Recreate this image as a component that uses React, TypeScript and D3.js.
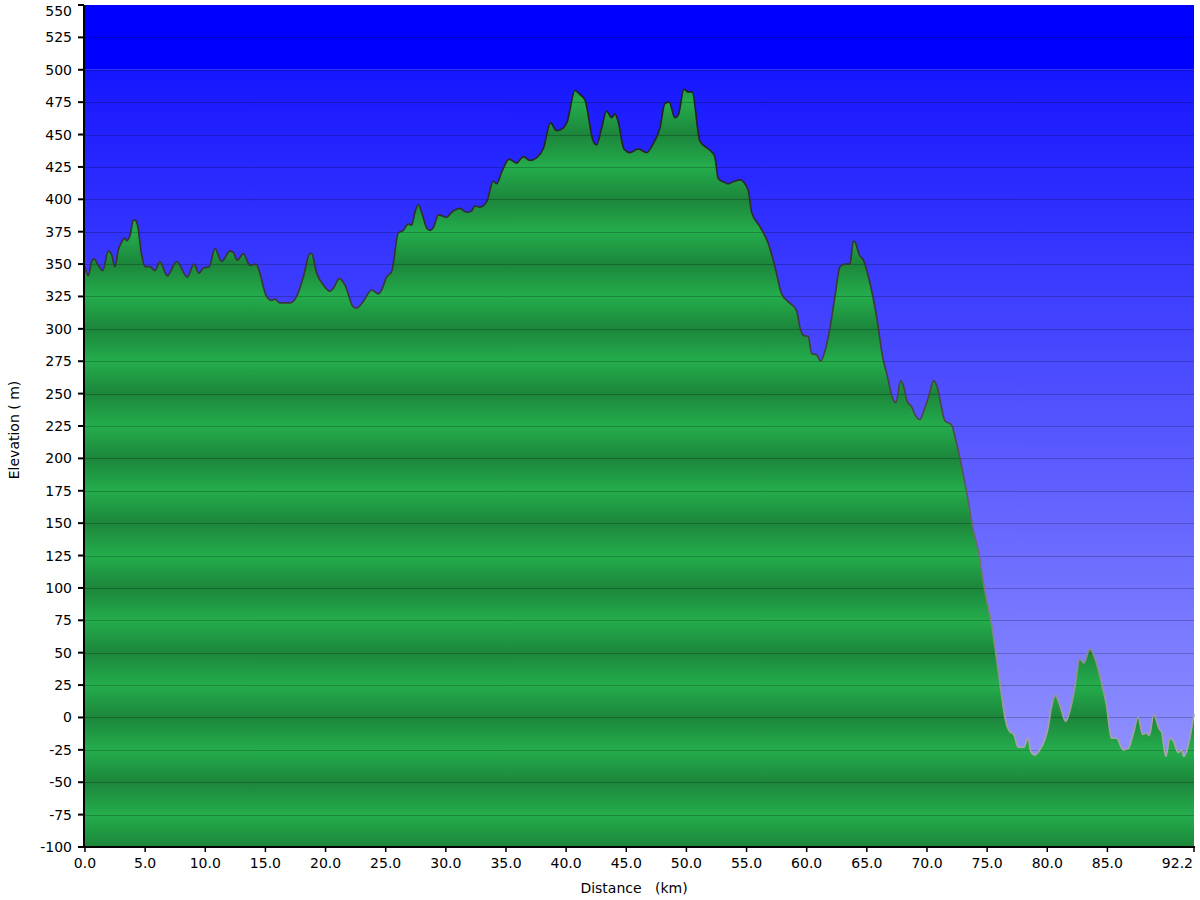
import React from "react";
import * as d3 from "d3";

const distanceKm: number[] = [
  0.0, 0.28, 0.55, 0.75, 1.11, 1.47, 1.94, 2.22, 2.49, 2.77, 3.05, 3.32, 3.46, 3.74, 4.02, 4.16, 4.35, 4.71, 4.99,
  5.4, 5.82, 6.23, 6.84, 7.62, 8.5, 9.06, 9.48, 9.83, 10.33, 10.8, 11.36, 12.05, 12.33, 12.66, 13.16, 13.71, 14.21,
  15.1, 15.51, 15.79, 16.2, 17.04, 17.6, 18.15, 18.7, 18.84, 19.26, 19.81, 20.36, 20.69, 21.14, 21.61, 22.3, 22.58,
  23.13, 23.83, 24.38, 24.66, 25.07, 25.49, 26.05, 26.46, 26.88, 27.15, 27.43, 27.71, 27.99, 28.4, 28.67, 29.0,
  29.37, 29.79, 30.06, 30.48, 31.17, 31.72, 32.14, 32.41, 32.83, 33.39, 33.94, 34.22, 34.64, 35.27, 35.88, 36.44,
  36.99, 37.54, 38.1, 38.7, 39.21, 39.76, 40.09, 40.73, 41.14, 41.56, 42.25, 42.53, 42.95, 43.36, 43.78, 44.06,
  44.33, 44.8, 45.3, 46.0, 46.69, 47.24, 47.8, 48.21, 48.57, 49.04, 49.32, 49.79, 50.15, 50.48, 51.12, 51.95, 52.17,
  52.36, 52.65, 53.2, 53.48, 53.76, 54.45, 55.14, 55.42, 56.11, 56.81, 57.36, 57.92, 58.47, 59.16, 59.44, 59.72,
  60.14, 60.41, 60.83, 61.16, 61.52, 61.94, 62.35, 62.77, 63.19, 63.6, 63.88, 64.02, 64.38, 64.71, 65.27, 65.82,
  66.36, 66.64, 67.2, 67.42, 67.81, 68.08, 68.36, 68.72, 69.05, 69.41, 69.75, 70.11, 70.57, 70.85, 71.49, 72.04,
  72.4, 73.01, 73.43, 73.84, 74.26, 74.81, 75.37, 75.78, 76.19, 76.55, 76.89, 77.22, 77.58, 78.05, 78.41, 78.63,
  78.97, 79.38, 79.8, 80.07, 80.35, 80.68, 80.99, 81.54, 82.01, 82.29, 82.7, 83.04, 83.54, 83.95, 84.51, 84.93,
  85.34, 85.76, 86.31, 86.73, 87.14, 87.56, 87.92, 88.25, 88.48, 88.86, 89.31, 89.5, 89.86, 90.19, 90.52, 90.88,
  91.16, 91.35, 91.71, 92.2,
];

const elevationM: number[] = [
  348, 341, 352, 354, 349, 345, 360, 357, 348, 361, 367, 370, 368, 372, 384, 384, 381, 357, 348,
  348, 345, 352, 341, 352, 340, 350, 343, 347, 348, 362, 352, 360, 359, 353, 358, 349, 350,
  325, 322, 323, 320, 320, 325, 340, 358, 358, 343, 334, 329, 332, 339, 334, 317, 316,
  321, 330, 327, 330, 340, 344, 374, 376, 381, 380, 390, 396, 390, 378, 376, 379,
  388, 387, 386, 390, 393, 390, 391, 395, 394, 398, 414, 412, 421, 431, 428, 433,
  430, 432, 439, 459, 453, 455, 460, 484, 481, 477, 445, 442, 455, 468, 463, 466,
  460, 439, 436, 439, 436, 443, 455, 474, 475, 463, 465, 485, 483, 483, 445, 438, 436,
  433, 416, 413, 412, 413, 415, 407, 390, 379, 366, 348, 327, 321, 314, 301, 295,
  294, 281, 280, 275, 283, 301, 325, 348, 350, 350, 368, 367, 357, 353, 335, 309,
  276, 266, 245, 243, 260, 255, 244, 240, 233, 230, 237, 247, 260, 255, 229, 226,
  214, 188, 167, 145, 129, 98, 72, 46, 18, -3, -11, -13, -23, -23, -16, -26,
  -29, -25, -17, -8, 8, 17, 11, -3, 10, 23, 45, 42, 53, 46, 27, 9,
  -16, -16, -25, -24, -13, 0, -13, -12, -14, 2, -9, -11, -30, -16, -19, -27,
  -25, -30, -22, 3,
];

const yTicks: number[] = d3.range(-100, 551, 25);
const xTicks: number[] = [0, 5, 10, 15, 20, 25, 30, 35, 40, 45, 50, 55, 60, 65, 70, 75, 80, 85, 92.2];
const xTitle = "Distance   (km)";
const yTitle = "Elevation ( m)";

const FONT = "'DejaVu Sans', Verdana, sans-serif";

export default function App() {
  const W = 1200;
  const H = 900;
  const x = d3.scaleLinear().domain([0, 92.2]).range([85, 1194]);
  const y = d3.scaleLinear().domain([-100, 550]).range([847, 5]);

  const data = distanceKm.map((d, i) => ({ d, e: elevationM[i] }));

  const area = d3
    .area<{ d: number; e: number }>()
    .x((p) => x(p.d))
    .y0(y(-100))
    .y1((p) => y(p.e))
    .curve(d3.curveMonotoneX);
  const line = d3
    .line<{ d: number; e: number }>()
    .x((p) => x(p.d))
    .y((p) => y(p.e))
    .curve(d3.curveMonotoneX);

  const x0 = x(0);
  const x1 = x(92.2);

  return (
    <svg
      width={W}
      height={H}
      style={{ position: "absolute", left: 0, top: 0, background: "#fff" }}
    >
      <defs>
        <linearGradient id="skyGrad" gradientUnits="userSpaceOnUse" x1={0} x2={0} y1={y(500)} y2={y(-100)}>
          <stop offset="0" stopColor="rgb(22,22,255)" />
          <stop offset="1" stopColor="rgb(160,160,255)" />
        </linearGradient>
        <linearGradient
          id="stripes"
          gradientUnits="userSpaceOnUse"
          x1={0}
          x2={0}
          y1={y(50)}
          y2={y(0)}
          spreadMethod="repeat"
        >
          <stop offset="0" stopColor="#1c863b" />
          <stop offset="0.5" stopColor="#24ad4c" />
          <stop offset="1" stopColor="#1c863b" />
        </linearGradient>
        <linearGradient id="lineGrad" gradientUnits="userSpaceOnUse" x1={0} x2={0} y1={y(500)} y2={y(-50)}>
          <stop offset="0" stopColor="#1e1e1e" />
          <stop offset="0.5" stopColor="#4a4a4a" />
          <stop offset="1" stopColor="#b0b0b0" />
        </linearGradient>
      </defs>

      {/* background */}
      <rect x={x0} y={y(550)} width={x1 - x0} height={y(500) - y(550)} fill="#0000ff" />
      <rect x={x0} y={y(500)} width={x1 - x0} height={y(-100) - y(500)} fill="url(#skyGrad)" />

      {/* terrain */}
      <path d={area(data) || ""} fill="url(#stripes)" />

      {/* grid */}
      {yTicks
        .filter((t) => t > -100 && t < 550)
        .map((t) => (
          <line
            key={"g" + t}
            x1={x0}
            x2={x1}
            y1={Math.round(y(t)) + 0.5}
            y2={Math.round(y(t)) + 0.5}
            stroke="rgba(0,0,0,0.22)"
            strokeWidth={1}
          />
        ))}

      <path d={line(data) || ""} fill="none" stroke="url(#lineGrad)" strokeWidth={1.7} />

      {/* axes */}
      <line x1={84} x2={84} y1={y(550)} y2={y(-100) + 1} stroke="#000" strokeWidth={2} />
      <line x1={83} x2={x1 + 1} y1={847} y2={847} stroke="#000" strokeWidth={2} />

      {yTicks.map((t) => (
        <g key={"yt" + t}>
          <line x1={78} x2={84} y1={y(t)} y2={y(t)} stroke="#000" strokeWidth={2} />
          <text
            x={72}
            y={Math.max(y(t), 11)}
            textAnchor="end"
            dominantBaseline="central"
            fontFamily={FONT}
            fontSize={14}
            fill="#000"
          >
            {t}
          </text>
        </g>
      ))}

      {xTicks.map((t, i) => {
        const last = i === xTicks.length - 1;
        return (
          <g key={"xt" + t}>
            <line x1={x(t)} x2={x(t)} y1={847} y2={852} stroke="#000" strokeWidth={1.5} />
            <text
              x={last ? 1193 : x(t)}
              y={868}
              textAnchor={last ? "end" : "middle"}
              fontFamily={FONT}
              fontSize={14}
              fill="#000"
            >
              {t.toFixed(1)}
            </text>
          </g>
        );
      })}

      <text
        x={634}
        y={893}
        textAnchor="middle"
        fontFamily={FONT}
        fontSize={14}
        fill="#000"
        style={{ whiteSpace: "pre" }}
      >
        {xTitle}
      </text>
      <text
        transform={`translate(19,430) rotate(-90)`}
        textAnchor="middle"
        fontFamily={FONT}
        fontSize={14}
        fill="#000"
        style={{ whiteSpace: "pre" }}
      >
        {yTitle}
      </text>
    </svg>
  );
}
